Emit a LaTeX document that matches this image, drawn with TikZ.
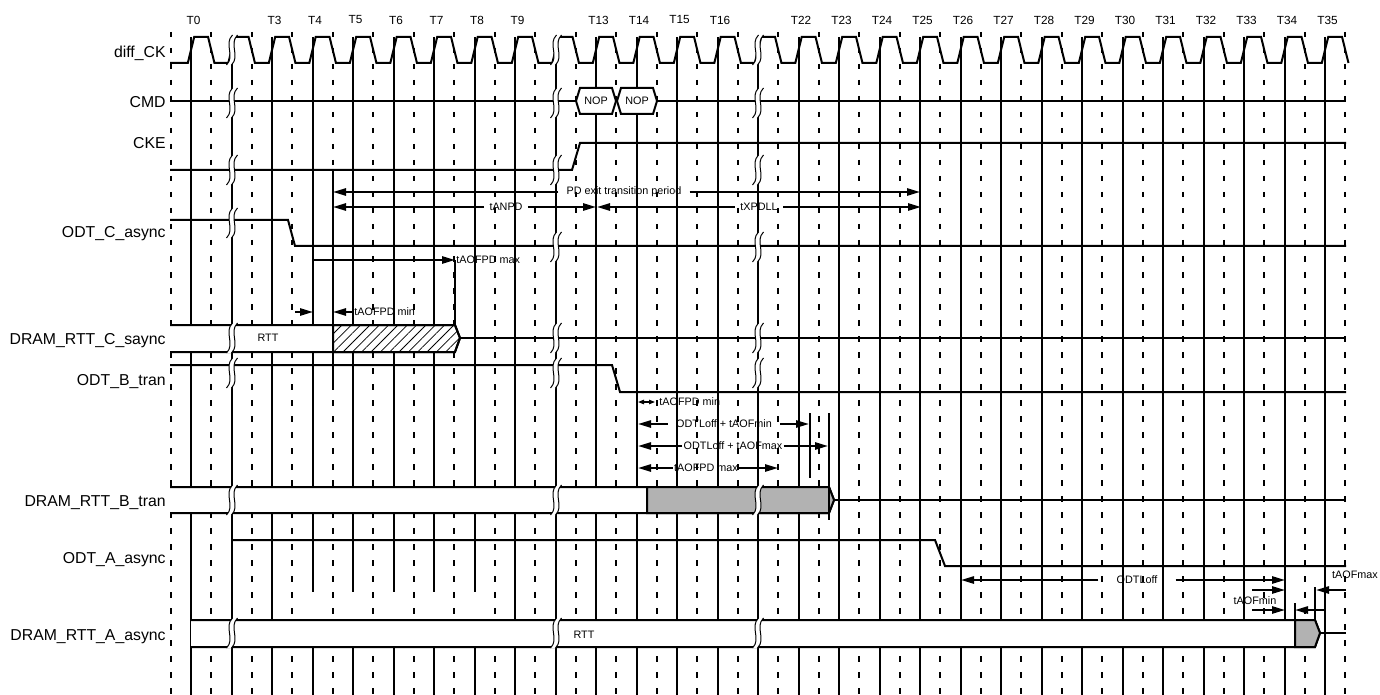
\documentclass[tikz,border=0pt]{standalone}
\usepackage{fontspec}
\setmainfont{Liberation Sans}
\usetikzlibrary{arrows.meta,patterns.meta}

\tikzset{
  brk/.pic={
    \fill[white] (3,-15) .. controls (-6,-6) and (6,6) .. (-3,15) -- (2,15) .. controls (11,6) and (-1,-6) .. (8,-15) -- cycle;
    \draw[line width=0.5pt] (3,-15) .. controls (-6,-6) and (6,6) .. (-3,15);
    \draw[line width=0.5pt] (8,-15) .. controls (-1,-6) and (11,6) .. (2,15);
  }
}

\begin{document}
\begin{tikzpicture}[x=0.5pt, y=-0.5pt,
    every node/.style={font=\fontsize{5.4}{6}\selectfont, inner sep=1pt},
    sig/.style={line width=1pt},
    half/.style={line width=1pt, dash pattern=on 2.75pt off 5.25pt},
    sname/.style={anchor=base east, inner sep=0pt, font=\fontsize{7.9}{9}\selectfont},
    tnum/.style={font=\fontsize{5.9}{7}\selectfont},
    dimr/.style={line width=1pt, -{Triangle[length=6.5pt,width=3.6pt]}},
    tiny/.style={line width=0.6pt, {Triangle[length=3pt,width=2.2pt]}-{Triangle[length=3pt,width=2.2pt]}}]
    \useasboundingbox (0,0) rectangle (1380,695);

    % clock grid
    \foreach \i in {0,1,2,8,9,...,28}
        \draw[sig] ({191+40.5*\i},37) -- ({191+40.5*\i},695);
    \foreach \i in {3,...,7}
        \draw[sig] ({191+40.5*\i},37) -- ({191+40.5*\i},592) ({191+40.5*\i},647) -- ({191+40.5*\i},695);
    \foreach \i in {-1,...,28}
        \draw[half] ({211.25+40.5*\i},32) -- ({211.25+40.5*\i},695);

    % edge numbers
    \foreach \i/\tn in {0/0,2/3,3/4,4/5,5/6,6/7,7/8,8/9,10/13,11/14,12/15,13/16,15/22,16/23,17/24,18/25,19/26,20/27,21/28,22/29,23/30,24/31,25/32,26/33,27/34,28/35}
        \node[tnum] (T\tn) at ({193.5+40.5*\i},20) {T\tn};

    % signal names
    \node[sname] (nCK) at (166,58) {diff\_CK};
    \node[sname] (nCMD) at (166,108) {CMD};
    \node[sname] (nCKE) at (166,149) {CKE};
    \node[sname] (nODTC) at (166,237) {ODT\_C\_async};
    \node[sname] (nRTTC) at (166,344) {DRAM\_RTT\_C\_saync};
    \node[sname] (nODTB) at (166,385) {ODT\_B\_tran};
    \node[sname] (nRTTB) at (166,506) {DRAM\_RTT\_B\_tran};
    \node[sname] (nODTA) at (166,563) {ODT\_A\_async};
    \node[sname] (nRTTA) at (166,640) {DRAM\_RTT\_A\_async};

    % waveforms
    \draw[sig] (170,63) \foreach \i in {0,...,28} {
        -- ({187.8+40.5*\i},63) -- ({194.2+40.5*\i},37) -- ({208.05+40.5*\i},37) -- ({214.45+40.5*\i},63) };
    \draw[sig] (170,101) -- (1346,101);
    \draw[sig] (170,170) -- (572,170) -- (580,143) -- (1346,143);
    \draw[sig] (170,220) -- (288,220) -- (295,246) -- (1346,246);
    \draw[sig] (170,365) -- (612,365) -- (620,392) -- (1346,392);
    \draw[sig] (232,540) -- (935,540) -- (945,566) -- (1346,566);

    % commands
    \draw[sig, fill=white] (576,101) -- (580,88) -- (612,88) -- (616,101) -- (612,114) -- (580,114) -- cycle;
    \node (nop1) at (596,101) {NOP};
    \draw[sig, fill=white] (617,101) -- (621,88) -- (653,88) -- (657,101) -- (653,114) -- (621,114) -- cycle;
    \node (nop2) at (637,101) {NOP};

    % termination states
    \draw[sig, fill=white] (170,325) -- (455,325) -- (460,338) -- (455,352) -- (170,352);
    \path[sig, draw, pattern={Lines[angle=45,distance=3.3pt,line width=0.4pt]}]
        (333,325) -- (455,325) -- (460,338) -- (455,352) -- (333,352) -- cycle;
    \draw[sig] (460,338) -- (1346,338);
    \node (rttC) at (268,338) {RTT};

    \draw[sig, fill=white] (170,487) -- (829,487) -- (834,500) -- (829,513) -- (170,513);
    \draw[sig, fill=gray!60] (647,487) -- (829,487) -- (834,500) -- (829,513) -- (647,513) -- cycle;
    \draw[sig] (834,500) -- (1346,500);

    \draw[sig, fill=white] (191,620) -- (1315,620) -- (1320,633) -- (1315,647) -- (191,647);
    \draw[sig, fill=gray!60] (1295,620) -- (1315,620) -- (1320,633) -- (1315,647) -- (1295,647) -- cycle;
    \draw[sig] (1320,633) -- (1346,633);
    \node (rttA) at (584,635) {RTT};

    % reference edges
    \draw[sig] (333,170) -- (333,388);
    \draw[sig] (455,260) -- (455,325);
    \draw[sig] (810,413) -- (810,478);
    \draw[sig] (829,413) -- (829,520);
    \draw[sig] (1295,603) -- (1295,620);
    \draw[sig] (1315,587) -- (1315,620);

    % time breaks
    \foreach \bx in {232,556,758}
        \foreach \by in {50,103,170,338,373,500,633}
            \pic at ({\bx-2.5},\by) {brk};
    \pic at (229.5,223) {brk};
    \pic at (553.5,247) {brk};
    \pic at (755.5,247) {brk};

    % PD exit timings
    \coordinate (pdL) at (333,192);
    \coordinate (pdR) at (920,192);
    \node[inner sep=4pt] (pd) at (624,192) {PD exit transition period};
    \draw[dimr] (pd.west) -- (pdL);
    \draw[dimr] (pd.east) -- (pdR);

    \coordinate (anL) at (333,207);
    \coordinate (anR) at (596,207);
    \node[inner sep=2.5pt] (anpd) at (506,207) {tANPD};
    \draw[dimr] (anpd.west) -- (anL);
    \draw[dimr] (anpd.east) -- (anR);

    \coordinate (xpL) at (597,207);
    \coordinate (xpR) at (921,207);
    \node[inner sep=2.5pt] (xpdll) at (759,207) {tXPDLL};
    \draw[dimr] (xpdll.west) -- (xpL);
    \draw[dimr] (xpdll.east) -- (xpR);

    % ODT C timings
    \coordinate (amC) at (313,260);
    \node[anchor=west, inner sep=0.5pt] (amCt) at (455,260) {tAOFPD max};
    \draw[dimr] (amC) -- (amCt.west);

    \coordinate (aiC1) at (295,312);
    \coordinate (aiC2) at (313,312);
    \coordinate (aiC3) at (333,312);
    \draw[dimr] (aiC1) -- (aiC2);
    \node[anchor=west] (aiCt) at (352,312) {tAOFPD min};
    \draw[dimr] (aiCt.west) -- (aiC3);

    % ODT B timings
    \coordinate (aiB1) at (638,402);
    \coordinate (aiB2) at (655,402);
    \draw[tiny] (aiB1) -- (aiB2);
    \node[anchor=west] (aiBt) at (657,402) {tAOFPD min};

    \coordinate (omnL) at (638,424);
    \coordinate (omnR) at (809,424);
    \node[inner sep=4pt] (omin) at (724,424) {ODTLoff + tAOFmin};
    \draw[dimr] (omin.west) -- (omnL);
    \draw[dimr] (omin.east) -- (omnR);

    \coordinate (omxL) at (638,446);
    \coordinate (omxR) at (828,446);
    \node[inner sep=0.5pt] (omax) at (733,446) {ODTLoff + tAOFmax};
    \draw[dimr] (omax.west) -- (omxL);
    \draw[dimr] (omax.east) -- (omxR);

    \coordinate (amBL) at (638,468);
    \coordinate (amBR) at (778,468);
    \node[inner sep=0.5pt] (amB) at (706,468) {tAOFPD max};
    \draw[dimr] (amB.west) -- (amBL);
    \draw[dimr] (amB.east) -- (amBR);

    % ODT A timings
    \coordinate (olL) at (961,580);
    \coordinate (olR) at (1285,580);
    \node[inner sep=9pt] (ol) at (1137,580) {ODTLoff};
    \draw[dimr] (ol.west) -- (olL);
    \draw[dimr] (ol.east) -- (olR);

    \coordinate (mn1a) at (1252,590);
    \coordinate (mn1b) at (1285,590);
    \coordinate (mn2a) at (1252,610);
    \coordinate (mn2b) at (1285,610);
    \draw[dimr] (mn1a) -- (mn1b);
    \draw[dimr] (mn2a) -- (mn2b);
    \node (tmin) at (1255,601) {tAOFmin};

    \coordinate (mn3a) at (1325,610);
    \coordinate (mn3b) at (1295,610);
    \draw[dimr] (mn3a) -- (mn3b);

    \coordinate (mxa) at (1346,590);
    \coordinate (mxb) at (1316,590);
    \draw[dimr] (mxa) -- (mxb);
    \node (tmax) at (1355,575) {tAOFmax};
\end{tikzpicture}
\end{document}
